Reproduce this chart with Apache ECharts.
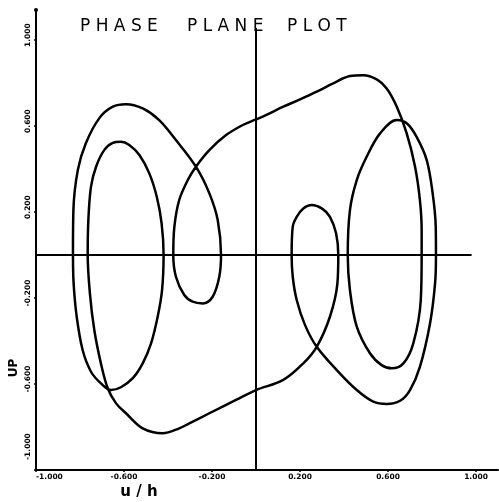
<!DOCTYPE html>
<html>
<head>
<meta charset="utf-8">
<script src="https://cdn.jsdelivr.net/npm/echarts@6/dist/echarts.min.js"></script>
<style>
  html, body { margin: 0; padding: 0; background: #fff; }
  #chart { width: 499px; height: 502px; }
</style>
</head>
<body>
<div id="chart"></div>
<script>
// Tick positions shared by both axes
const tickStep = 0.4;
const xTickLabels = { '-1': '-1.000', '-0.6': '-0.600', '-0.2': '-0.200', '0.2': '0.200', '0.6': '0.600', '1': '1.000' };
const yTickLabels = { '-1': '-1.000', '-0.6': '-0.600', '-0.2': '-0.200', '0.2': '0.200', '0.6': '0.600', '1': '1.000' };

// Periodic orbit, traced piece by piece between successive crossings of the u-axis (u, up)
const upperOuterLeft = [[-0.832,0],[-0.830,0.209],[-0.810,0.395],[-0.773,0.521],[-0.712,0.637],[-0.651,0.690],[-0.591,0.702],[-0.515,0.682],[-0.440,0.628],[-0.364,0.535],[-0.273,0.411],[-0.212,0.287],[-0.174,0.163],[-0.159,0]];
const lowerSmallLeft = [[-0.167,-0.101],[-0.197,-0.194],[-0.242,-0.225],[-0.288,-0.217],[-0.326,-0.186],[-0.364,-0.101],[-0.376,0]];
const upperLong = [[-0.371,0.132],[-0.349,0.256],[-0.310,0.349],[-0.273,0.411],[-0.212,0.488],[-0.136,0.558],[-0.060,0.605],[0,0.631],[0.045,0.651],[0.124,0.690],[0.200,0.724],[0.276,0.760],[0.351,0.799],[0.427,0.833],[0.488,0.837],[0.549,0.817],[0.594,0.775],[0.640,0.690],[0.685,0.566],[0.723,0.411],[0.745,0.256],[0.753,0.116],[0.753,0]];
const lowerRightInner = [[0.749,-0.209],[0.715,-0.411],[0.670,-0.504],[0.617,-0.527],[0.571,-0.512],[0.518,-0.457],[0.458,-0.333],[0.427,-0.163],[0.417,0]];
const upperRightInner = [[0.427,0.209],[0.458,0.349],[0.503,0.457],[0.564,0.566],[0.640,0.628],[0.685,0.613],[0.730,0.550],[0.776,0.442],[0.803,0.287],[0.817,0.132],[0.818,0]];
const lowerRightOuter = [[0.814,-0.132],[0.791,-0.318],[0.745,-0.520],[0.700,-0.628],[0.655,-0.678],[0.594,-0.693],[0.533,-0.682],[0.458,-0.628],[0.367,-0.535],[0.276,-0.427],[0.223,-0.326],[0.185,-0.209],[0.167,-0.101],[0.162,0]];
const upperSmallRight = [[0.167,0.132],[0.185,0.178],[0.215,0.217],[0.253,0.233],[0.299,0.217],[0.336,0.178],[0.364,0.101],[0.374,0]];
const lowerLong = [[0.370,-0.132],[0.336,-0.287],[0.276,-0.427],[0.215,-0.504],[0.124,-0.581],[0,-0.628],[-0.091,-0.674],[-0.212,-0.736],[-0.303,-0.783],[-0.349,-0.806],[-0.424,-0.829],[-0.515,-0.806],[-0.591,-0.736],[-0.636,-0.690],[-0.674,-0.620],[-0.705,-0.504],[-0.735,-0.349],[-0.755,-0.178],[-0.765,0]];
const upperInnerLeft = [[-0.762,0.163],[-0.750,0.318],[-0.727,0.411],[-0.690,0.488],[-0.651,0.522],[-0.614,0.527],[-0.576,0.512],[-0.530,0.465],[-0.485,0.380],[-0.451,0.271],[-0.429,0.147],[-0.420,0]];
const lowerLeftLoop = [[-0.427,-0.163],[-0.447,-0.287],[-0.477,-0.411],[-0.515,-0.504],[-0.560,-0.573],[-0.614,-0.615],[-0.659,-0.628],[-0.705,-0.597],[-0.750,-0.543],[-0.788,-0.442],[-0.815,-0.287],[-0.829,-0.132],[-0.832,0]];

// Reference axes drawn through the origin
const uZeroLine = [[-1.0, 0], [0.98, 0]];
const upZeroLine = [[0, -1.0], [0, 1.056]];

const orbit = [].concat(
  upperOuterLeft, lowerSmallLeft, upperLong, lowerRightInner, upperRightInner,
  lowerRightOuter, upperSmallRight, lowerLong, upperInnerLeft, lowerLeftLoop
);

const chart = echarts.init(document.getElementById('chart'), null, { renderer: 'canvas' });

const ink = '#000';
const labelFmt = (map) => (v) => {
  const k = String(Math.round(v * 10) / 10);
  return map[k] !== undefined ? map[k] : '';
};

chart.setOption({
  backgroundColor: '#fff',
  animation: false,
  grid: { left: 36, right: 1, top: 10, bottom: 32 },
  xAxis: {
    type: 'value', min: -1.0, max: 1.1, interval: tickStep,
    axisLine: { onZero: false, lineStyle: { color: ink, width: 2 } },
    axisTick: { show: true, length: 2, lineStyle: { color: ink, width: 1.5 } },
    splitLine: { show: false },
    axisLabel: {
      showMaxLabel: false, alignMinLabel: 'left', margin: 3,
      color: ink, fontSize: 7.5, fontWeight: 'bold', fontFamily: 'DejaVu Sans',
      formatter: labelFmt(xTickLabels)
    }
  },
  yAxis: {
    type: 'value', min: -1.0, max: 1.14, interval: tickStep,
    axisLine: { onZero: false, lineStyle: { color: ink, width: 2 }, symbol: ['none', 'circle'], symbolSize: [4, 4] },
    axisTick: { show: true, length: 2, lineStyle: { color: ink, width: 1.5 } },
    splitLine: { show: false },
    axisLabel: {
      showMaxLabel: false, rotate: 90, margin: 4, padding: [0, 0, 0, 10],
      alignMinLabel: 'left',
      color: ink, fontSize: 7.5, fontWeight: 'bold', fontFamily: 'DejaVu Sans',
      formatter: labelFmt(yTickLabels)
    }
  },
  graphic: [
    { type: 'text', left: 80, top: 18, style: { text: 'P H A S E', fill: ink, font: '17px "DejaVu Sans"' } },
    { type: 'text', left: 187, top: 18, style: { text: 'P L A N E', fill: ink, font: '17px "DejaVu Sans"' } },
    { type: 'text', left: 287, top: 18, style: { text: 'P L O T', fill: ink, font: '17px "DejaVu Sans"' } },
    { type: 'text', x: 139, y: 492, style: { text: 'u / h', fill: ink, font: 'bold 15px "DejaVu Sans"', align: 'center', verticalAlign: 'middle' } },
    { type: 'text', x: 14, y: 368, rotation: Math.PI / 2, style: { text: 'UP', fill: ink, font: 'bold 12px "DejaVu Sans"', align: 'center', verticalAlign: 'middle' } }
  ],
  series: [
    { type: 'line', data: uZeroLine, symbol: 'none', lineStyle: { color: ink, width: 2 }, silent: true },
    { type: 'line', data: upZeroLine, symbol: 'none', lineStyle: { color: ink, width: 2 }, silent: true },
    { type: 'line', data: orbit, symbol: 'none', smooth: 0.35, lineStyle: { color: ink, width: 2.5 }, silent: true }
  ]
});
</script>
</body>
</html>
